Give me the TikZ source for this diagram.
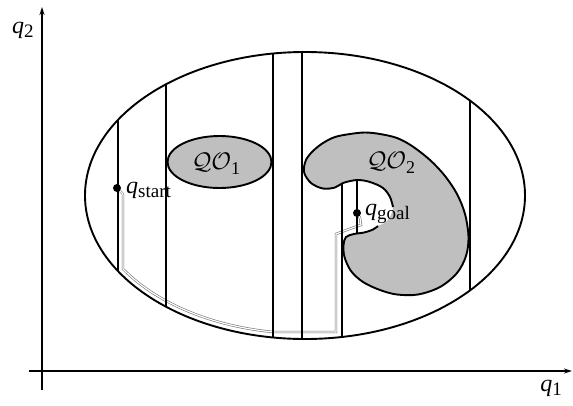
\documentclass[tikz,border=0pt]{standalone}
\usepackage{graphicx}
\usepackage{fontspec}
\setmainfont{Liberation Serif}
\usetikzlibrary{arrows.meta}
% q with an upright subscript, and the calligraphic obstacle name
\newcommand{\qlab}[1]{{\fontsize{24}{26}\selectfont\itshape q}\raisebox{-4.5pt}{\fontsize{19}{21}\selectfont #1}}
\newcommand{\qolab}[1]{\scalebox{2.4}{$\mathcal{QO}$}\raisebox{-5pt}{\fontsize{18}{20}\selectfont #1}}
\begin{document}
\begin{tikzpicture}[x=1pt,y=-1pt,
  axis/.style={line width=1.3pt,-{Stealth[length=8pt,width=5pt]}},
  border/.style={line width=1.9pt},
  wall/.style={line width=2.7pt},
  obstacle/.style={fill=black!25},
  route/.style={draw=black!55,line width=0.6pt,double=white,double distance=1.2pt},
  lbl/.style={inner sep=0pt},
  pt/.style={circle,fill=black,inner sep=0pt,minimum size=8pt}]

\useasboundingbox (0,0) rectangle (573,405);

% coordinate axes
\coordinate (x0) at (29,371);
\coordinate (x1) at (572,371);
\coordinate (y0) at (42,390);
\coordinate (y1) at (42,7);
\draw[axis] (x0) -- (x1);
\draw[axis] (y0) -- (y1);
\node[lbl] (lq1) at (551,388) {\qlab{1}};
\node[lbl] (lq2) at (23,30) {\qlab{2}};

% obstacle QO_2 (C-shaped region)
\fill[obstacle] plot[smooth cycle,tension=0.55] coordinates {
  (393,207) (390,197) (383,188) (370,182) (357,180) (343,183)
  (335,187.5) (323,188.5) (311,183) (304,172) (306,160) (313,151)
  (323,143) (335,137) (350,134) (365,132.5) (380,134) (397,138)
  (412,146) (430,160) (445,176) (457,194) (465,214) (468.5,237)
  (466,256) (457,273) (440,287) (418,294.5) (397,294.5) (380,290)
  (363,282) (351,271) (344.5,257) (343.5,245) (346,237) (354,234)
  (364,232.5) (373,229.5) (378,226) (386,222) (391,215)};
\draw[border] plot[smooth,tension=0.55] coordinates {
  (393,207) (390,197) (383,188) (370,182) (357,180) (343,183)
  (335,187.5) (323,188.5) (311,183) (304,172) (306,160) (313,151)
  (323,143) (335,137) (350,134) (365,132.5) (380,134) (397,138)
  (412,146) (430,160) (445,176) (457,194) (465,214) (468.5,237)
  (466,256) (457,273) (440,287) (418,294.5) (397,294.5) (380,290)
  (363,282) (351,271) (344.5,257) (343.5,245) (346,237) (354,234)
  (364,232.5) (373,229.5) (378,226)};

% obstacle QO_1
\draw[border,obstacle] (219.5,162) ellipse[x radius=52pt,y radius=26pt];

% free-space boundary
\draw[border] (305,195.5) ellipse[x radius=220pt,y radius=143.5pt];

% path from start to goal through the cells
\coordinate (qs) at (117,188);
\coordinate (qg) at (357,213);
\draw[route] (qs) -- (123,194) -- (123,268.9)
  -- plot[domain=147.84:98.56,samples=30] ({305+215*cos(\x)},{195.5+138*sin(\x)})
  -- (336,332) -- (336,234) -- (352,228) -- (361,225) -- (360,218) -- (qg);

% vertical cell boundaries
\draw[wall] (118,119.9) -- (118,271.1);
\draw[wall] (166,84.3) -- (166,306.7);
\draw[wall] (273,53.5) -- (273,337.5);
\draw[wall] (302,52) -- (302,339);
\draw[wall] (342,183.5) -- (342,336.9);
\draw[wall] (357,180) -- (357,233);
\draw[wall] (470,100.6) -- (470,290.4);

% start and goal configurations
\node[pt] (ps) at (qs) {};
\node[pt] (pg) at (qg) {};
\node[lbl,anchor=base west] (lqs) at (126,193) {\qlab{start}};
\node[lbl,anchor=base west] (lqg) at (365,215) {\qlab{goal}};
\node[lbl] (lo1) at (216,164) {\qolab{1}};
\node[lbl] (lo2) at (391,163) {\qolab{2}};
\end{tikzpicture}
\end{document}
